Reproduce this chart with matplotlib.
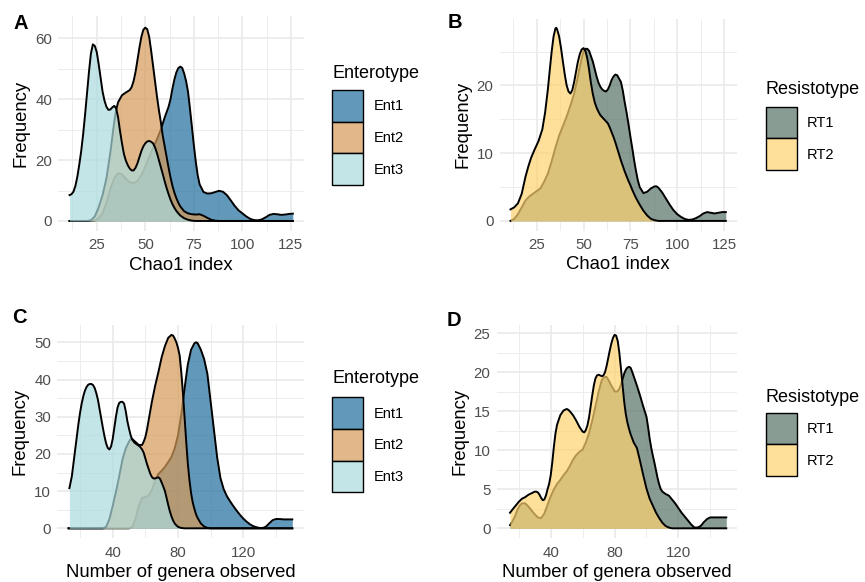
import matplotlib.pyplot as plt
from matplotlib.patches import Rectangle
from matplotlib.colors import to_rgba

plt.rcParams['font.family'] = ['Liberation Sans', 'DejaVu Sans']

# ---- data (density curves scaled to counts) ----
# Panel A: Chao1 index by enterotype
a_ent1_x = [11, 20, 24, 26, 28, 30, 32, 34, 36, 38, 40, 42, 44, 46, 48, 50, 52, 54, 56, 58,
            60, 62, 63, 64, 65, 66, 67, 68, 69, 70, 71, 72, 73, 74, 75, 76, 77, 78, 80, 82,
            84, 86, 88, 90, 92, 94, 96, 98, 100, 102, 104, 106, 108, 110, 112, 114, 116, 118, 120, 122,
            124, 126]
a_ent1_y = [0, 0, 0.1, 0.8, 2.5, 6, 10.5, 14, 15.7, 15.3, 13.8, 12.8, 12.4, 13.2, 15, 17.8, 21, 24, 26.8, 30,
            34, 37.5, 40, 43.5, 46.5, 48.8, 50.2, 50.7, 50.3, 48.5, 46, 42.5, 37, 31, 25, 19.5, 15, 12, 9.5, 9,
            9.1, 9.5, 9.9, 9.6, 8.5, 6.8, 5, 3.5, 2.5, 1.5, 0.7, 0.3, 0.2, 0.5, 1.2, 2, 2.3, 2.2, 2, 2.1,
            2.3, 2.4]
a_ent2_x = [11, 20, 22, 24, 26, 28, 30, 32, 34, 35, 36, 38, 40, 42, 43, 44, 45, 46, 47, 48,
            49, 50, 51, 52, 53, 54, 55, 56, 57, 58, 59, 60, 61, 62, 63, 64, 65, 66, 67, 68,
            70, 72, 74, 76, 78, 80, 82, 84, 86, 88, 126]
a_ent2_y = [0, 0, 0.2, 1.5, 4.5, 8.5, 14, 22.5, 32.5, 36.5, 39, 41.3, 42.2, 43, 44, 46, 49, 53, 57, 60.5,
            62.8, 63.5, 63, 60.5, 56, 51, 46, 41, 36.5, 32.5, 28, 24.5, 21, 17.5, 14.3, 11.5, 9.3, 7.5, 6, 4.8,
            3.2, 2.5, 2.2, 2.1, 2.2, 1.7, 1, 0.4, 0.1, 0, 0]
a_ent3_x = [11, 12, 13, 14, 15, 16, 17, 18, 19, 20, 21, 22, 23, 24, 25, 26, 27, 28, 29, 30,
            31, 32, 33, 34, 35, 36, 37, 38, 39, 40, 41, 42, 43, 44, 45, 46, 47, 48, 49, 50,
            51, 52, 53, 54, 55, 56, 57, 58, 59, 60, 61, 62, 63, 64, 65, 66, 67, 68, 70, 72,
            74, 76, 126]
a_ent3_y = [8.5, 8.8, 9.6, 11.5, 14.5, 18.5, 23, 28.5, 35, 42, 49, 55, 58, 57.5, 55.5, 51.5, 47, 42.5, 39.5, 37.5,
            36.5, 36.6, 37.3, 37.8, 37, 34, 29.5, 25.5, 22, 19.8, 18.3, 17.2, 16.6, 16.6, 17.5, 19, 21, 23, 24.5, 25.5,
            26.1, 26.3, 26, 25.5, 24.2, 22.3, 20, 17.7, 15.4, 13, 10.8, 8.8, 7, 5.5, 4.3, 3.3, 2.5, 1.8, 0.9, 0.4,
            0.1, 0, 0]

# Panel B: Chao1 index by resistotype
b_rt1_x = [11, 13, 15, 17, 19, 21, 23, 25, 27, 29, 31, 33, 35, 37, 39, 41, 43, 45, 47, 49,
           50, 51, 52, 53, 54, 55, 56, 57, 58, 59, 60, 61, 62, 63, 64, 65, 66, 67, 68, 69,
           70, 71, 72, 73, 74, 75, 76, 77, 78, 79, 80, 82, 84, 86, 88, 89, 90, 92, 94, 96,
           98, 100, 102, 104, 106, 108, 110, 112, 114, 116, 118, 120, 122, 124, 126]
b_rt1_y = [0, 0.3, 1, 2, 3, 3.6, 4, 4.4, 4.8, 5.8, 7, 8.8, 10.8, 12.6, 14, 15.4, 17, 18.8, 21.3, 24,
           25, 25.4, 25.4, 25.1, 24.3, 23.5, 22.4, 21.3, 20.4, 19.8, 19.4, 19.2, 19.1, 19.4, 20, 20.8, 21.3, 21.6, 21.5, 21,
           20.5, 19.2, 17.5, 16, 14.3, 12.5, 10.8, 9, 7.4, 6, 5, 4.1, 4.3, 4.8, 5.1, 5.1, 4.9, 4.2, 3.3, 2.4,
           1.6, 1, 0.6, 0.3, 0.15, 0.2, 0.4, 0.7, 1.1, 1.3, 1.2, 1.1, 1.2, 1.3, 1.3]
b_rt2_x = [11, 13, 15, 17, 19, 20.5, 22, 24, 26, 28, 29.5, 31, 32, 33, 34, 35, 35.5, 36, 37, 38,
           39, 40, 41, 42, 43, 44, 45, 46, 47, 48, 49, 50, 51, 52, 53, 54, 55, 56, 57, 58,
           59, 60, 61, 62, 63, 64, 65, 66, 67, 68, 69, 70, 71, 72, 73, 74, 75, 76, 77, 78,
           80, 82, 84, 86, 88, 90, 126]
b_rt2_y = [1.7, 2, 2.6, 4, 6.5, 8, 9.3, 10.6, 11.8, 13.5, 16, 19.5, 22.3, 25, 27.2, 28.4, 28.5, 28.2, 27.2, 25.5,
           23.5, 21.6, 20, 19.1, 18.8, 19.3, 20.5, 22, 23.5, 24.6, 25.3, 25.5, 25.1, 24, 22.3, 20.3, 18.7, 17.5, 16.7, 16.1,
           15.6, 15.3, 15, 14.7, 14.4, 13.8, 13.1, 12.4, 11.6, 10.7, 9.8, 8.9, 8.1, 7.3, 6.6, 5.9, 5.3, 4.6, 4, 3.4,
           2.4, 1.5, 0.8, 0.3, 0.1, 0, 0]

# Panel C: number of genera observed by enterotype
c_ent1_x = [13, 50, 52, 54, 56, 58, 60, 62, 64, 66, 68, 70, 72, 74, 76, 78, 80, 82, 84, 86,
            88, 90, 91, 92, 94, 96, 98, 100, 102, 104, 106, 108, 110, 112, 114, 116, 118, 120, 122, 124,
            126, 128, 130, 132, 134, 136, 138, 140, 142, 145, 150]
c_ent1_y = [0, 0, 0.3, 2.5, 6, 8.2, 8.4, 8.8, 10.3, 12.8, 14.6, 15.5, 16.5, 17.8, 19.2, 21.5, 25, 30.5, 37.5, 44,
            48, 49.7, 50, 49.8, 48, 45.5, 41.5, 34, 26.5, 19, 13.5, 10.5, 8.6, 7.2, 5.9, 4.7, 3.6, 2.6, 1.8, 1.1,
            0.6, 0.3, 0.1, 0.1, 0.5, 1.4, 2.2, 2.5, 2.5, 2.4, 2.4]
c_ent2_x = [13, 34, 36, 38, 40, 42, 44, 46, 48, 50, 51, 52, 54, 56, 58, 59, 60, 61, 62, 63,
            64, 66, 68, 70, 72, 74, 76, 77, 78, 79, 80, 81, 82, 83, 84, 85, 86, 87, 88, 89,
            90, 91, 92, 94, 96, 98, 100, 150]
c_ent2_y = [0, 0, 0.4, 2.5, 6, 9.8, 14, 18.5, 21.5, 23.3, 24, 24, 23.2, 22.4, 22.4, 23.3, 24.5, 26.5, 29, 31.5,
            34, 38.3, 42, 46, 49, 51.2, 52, 51.8, 51, 50, 48.5, 46.5, 42, 36.5, 30, 23.5, 17.5, 13, 9.5, 7,
            5.3, 3.8, 2.8, 1.3, 0.5, 0.1, 0, 0]
c_ent3_x = [13.5, 15, 16, 17, 18, 19, 20, 21, 22, 23, 24, 25, 26, 27, 28, 29, 30, 31, 32, 33,
            34, 35, 36, 37, 38, 39, 40, 41, 42, 43, 44, 45, 46, 47, 48, 49, 50, 51, 52, 53,
            54, 55, 56, 57, 58, 59, 60, 61, 62, 63, 64, 65, 66, 67, 68, 69, 70, 71, 72, 73,
            74, 75, 76, 77, 78, 79, 80, 82, 84, 150]
c_ent3_y = [10.8, 14, 17.5, 21, 24.5, 28, 31, 33.5, 35.5, 37, 38, 38.6, 38.8, 38.8, 38.5, 37.7, 36.3, 34.5, 32, 29.5,
            27, 24.7, 22.8, 21.6, 21.2, 22, 24, 27, 30, 32.5, 33.7, 34, 34, 33.5, 31.5, 28.8, 26.8, 25, 23.8, 23.2,
            22.8, 22.5, 22.2, 21.8, 21.2, 20.3, 18.8, 17.3, 16, 14.7, 13.8, 13.4, 13.4, 13.6, 13.7, 13.3, 12.3, 11.2, 10, 8.2,
            6.3, 4.6, 3.2, 2.1, 1.3, 0.8, 0.4, 0.1, 0, 0]

# Panel D: number of genera observed by resistotype
d_rt1_x = [14.5, 16, 17.5, 19, 20.5, 22, 24, 26, 28, 30, 32, 34, 36, 38, 40, 42, 44, 46, 48, 50,
           52, 54, 56, 58, 60, 62, 64, 66, 68, 70, 72, 73, 74, 75, 76, 78, 80, 81, 82, 83,
           84, 85, 86, 87, 88, 89, 90, 91, 92, 94, 96, 98, 100, 101, 102, 103, 104, 105, 106, 107,
           108, 109, 110, 112, 114, 116, 118, 120, 122, 124, 126, 128, 130, 132, 134, 136, 138, 140, 143, 146,
           150]
d_rt1_y = [0.4, 0.9, 1.5, 2.3, 2.9, 3.2, 3.2, 2.8, 2.3, 1.8, 1.4, 1.3, 1.9, 3, 4.1, 5, 5.7, 6.2, 6.8, 7.3,
           8, 8.8, 9.4, 9.8, 10.1, 11, 12.2, 13.8, 15.6, 17.5, 19, 19.3, 19.4, 19.4, 19.1, 18.3, 17.6, 17.5, 17.6, 17.9,
           18.4, 19.1, 19.8, 20.3, 20.6, 20.7, 20.6, 20.1, 19.5, 18.3, 17, 15.6, 14.3, 13, 11.5, 10.3, 9.3, 8.4, 7.4, 6.4,
           5.6, 5, 4.7, 4.4, 4.2, 3.7, 3.2, 2.6, 2, 1.5, 1, 0.5, 0.1, 0.1, 0.3, 0.8, 1.2, 1.4, 1.4, 1.4,
           1.4]
d_rt2_x = [14.5, 16, 18, 20, 22, 24, 26, 28, 30, 31, 32, 33, 34, 35, 36, 37, 38, 39, 40, 41,
           42, 43, 44, 46, 48, 50, 51, 52, 54, 56, 58, 60, 61, 62, 63, 64, 65, 66, 67, 68,
           69, 70, 71, 72, 73, 74, 75, 76, 77, 78, 79, 80, 81, 82, 83, 84, 85, 86, 87, 88,
           89, 90, 92, 94, 96, 98, 100, 102, 104, 106, 108, 110, 112, 114, 116, 150]
d_rt2_y = [2, 2.4, 2.9, 3.4, 3.8, 4, 4.3, 4.5, 4.7, 4.7, 4.6, 4.3, 3.9, 3.6, 3.7, 4.2, 5, 5.7, 6.8, 8.5,
           10.5, 12.2, 13.3, 14.5, 15.1, 15.3, 15.2, 15, 14.5, 13.8, 13, 12.4, 12.3, 12.6, 13.2, 14.2, 15.6, 17, 18.3, 19.2,
           19.6, 19.7, 19.6, 19.5, 19.6, 20, 20.8, 21.8, 22.8, 23.7, 24.4, 24.8, 24.7, 24, 22.5, 20.5, 18.4, 16.3, 14.7, 13.6,
           12.8, 12.1, 11, 10.3, 8.6, 6.8, 5.1, 3.8, 2.9, 2, 1.3, 0.7, 0.3, 0.1, 0, 0]

ent_labels = ['Ent1', 'Ent2', 'Ent3']
ent_colors = ['#1F6E9F', '#D69B58', '#ABDBDE']
rt_labels = ['RT1', 'RT2']
rt_colors = ['#567366', '#FED370']
ALPHA = 0.7

W, H = 865, 582
fig = plt.figure(figsize=(W / 100, H / 100), dpi=100)


def box(left, top, right, bottom):
    # pixel box (origin top-left) -> figure fraction
    return [left / W, 1 - bottom / H, (right - left) / W, (bottom - top) / H]


def style(ax, xlim, ylim, xt, xm, yt, ym, xlabel):
    ax.set_xlim(xlim)
    ax.set_ylim(ylim)
    ax.set_xticks(xt)
    ax.set_xticks(xm, minor=True)
    ax.set_yticks(yt)
    ax.set_yticks(ym, minor=True)
    ax.grid(which='major', color='#EAEAEA', lw=1.2)
    ax.grid(which='minor', color='#EDEDED', lw=0.7)
    ax.set_axisbelow(True)
    for s in ax.spines.values():
        s.set_visible(False)
    ax.tick_params(which='both', length=0, labelsize=10.8, labelcolor='#4D4D4D')
    ax.tick_params(axis='x', pad=5.5)
    ax.tick_params(axis='y', pad=4.5)
    ax.set_xlabel(xlabel, fontsize=13.3, labelpad=3)
    ax.set_ylabel('Frequency', fontsize=13.3, labelpad=4)


def densities(ax, series, colors):
    for i, ((x, y), c) in enumerate(zip(series, colors)):
        ax.fill_between(x, y, 0, color=c, alpha=ALPHA, lw=0, zorder=2 + 2 * i)
        ax.plot(x, y, color='black', lw=1.4, zorder=3 + 2 * i, solid_joinstyle='round')


def legend(title, labels, colors, left, title_base, key_top):
    fig.text(left / W, 1 - title_base / H, title, fontsize=13, va='baseline', ha='left')
    kw, kh = 31, 31.7
    for i, (lab, c) in enumerate(zip(labels, colors)):
        top = key_top + i * kh
        fig.add_artist(Rectangle((left / W, 1 - (top + kh) / H), kw / W, kh / H,
                                 transform=fig.transFigure, facecolor=to_rgba(c, ALPHA),
                                 edgecolor='black', lw=1.0))
        fig.text((left + kw + 10.5) / W, 1 - (top + kh / 2 + 0.5) / H, lab,
                 fontsize=10.5, va='center', ha='left')


def letter(s, x, y):
    fig.text(x / W, 1 - y / H, s, fontsize=14.5, fontweight='bold', va='baseline', ha='left')


# A
ax_a = fig.add_axes(box(58.4, 16.4, 304, 230.7))
densities(ax_a, [(a_ent1_x, a_ent1_y), (a_ent2_x, a_ent2_y), (a_ent3_x, a_ent3_y)], ent_colors)
style(ax_a, (5.25, 131.75), (-3.2, 67.2), [25, 50, 75, 100, 125], [12.5, 37.5, 62.5, 87.5, 112.5],
      [0, 20, 40, 60], [10, 30, 50], 'Chao1 index')

# B
ax_b = fig.add_axes(box(499.7, 19, 736.6, 230.6))
densities(ax_b, [(b_rt1_x, b_rt1_y), (b_rt2_x, b_rt2_y)], rt_colors)
style(ax_b, (5.25, 131.75), (-1.43, 29.8), [25, 50, 75, 100, 125], [12.5, 37.5, 62.5, 87.5, 112.5],
      [0, 10, 20], [5, 15, 25], 'Chao1 index')

# C
ax_c = fig.add_axes(box(57.4, 325.2, 303.5, 538))
densities(ax_c, [(c_ent1_x, c_ent1_y), (c_ent2_x, c_ent2_y), (c_ent3_x, c_ent3_y)], ent_colors)
style(ax_c, (6.15, 156.85), (-2.6, 54.6), [40, 80, 120], [20, 60, 100, 140],
      [0, 10, 20, 30, 40, 50], [5, 15, 25, 35, 45], 'Number of genera observed')

# D
ax_d = fig.add_axes(box(496.7, 325.2, 737.2, 538))
densities(ax_d, [(d_rt1_x, d_rt1_y), (d_rt2_x, d_rt2_y)], rt_colors)
style(ax_d, (6.15, 156.85), (-1.24, 26.04), [40, 80, 120], [20, 60, 100, 140],
      [0, 5, 10, 15, 20, 25], [2.5, 7.5, 12.5, 17.5, 22.5], 'Number of genera observed')

legend('Enterotype', ent_labels, ent_colors, 332.3, 77.5, 90)
legend('Resistotype', rt_labels, rt_colors, 765.7, 94, 106.7)
legend('Enterotype', ent_labels, ent_colors, 332.3, 383.3, 397.3)
legend('Resistotype', rt_labels, rt_colors, 765.7, 401.7, 412.7)

letter('A', 13, 29.3)
letter('B', 448, 27.5)
letter('C', 12, 323.3)
letter('D', 447, 326)

fig.savefig('out.png', dpi=100)
